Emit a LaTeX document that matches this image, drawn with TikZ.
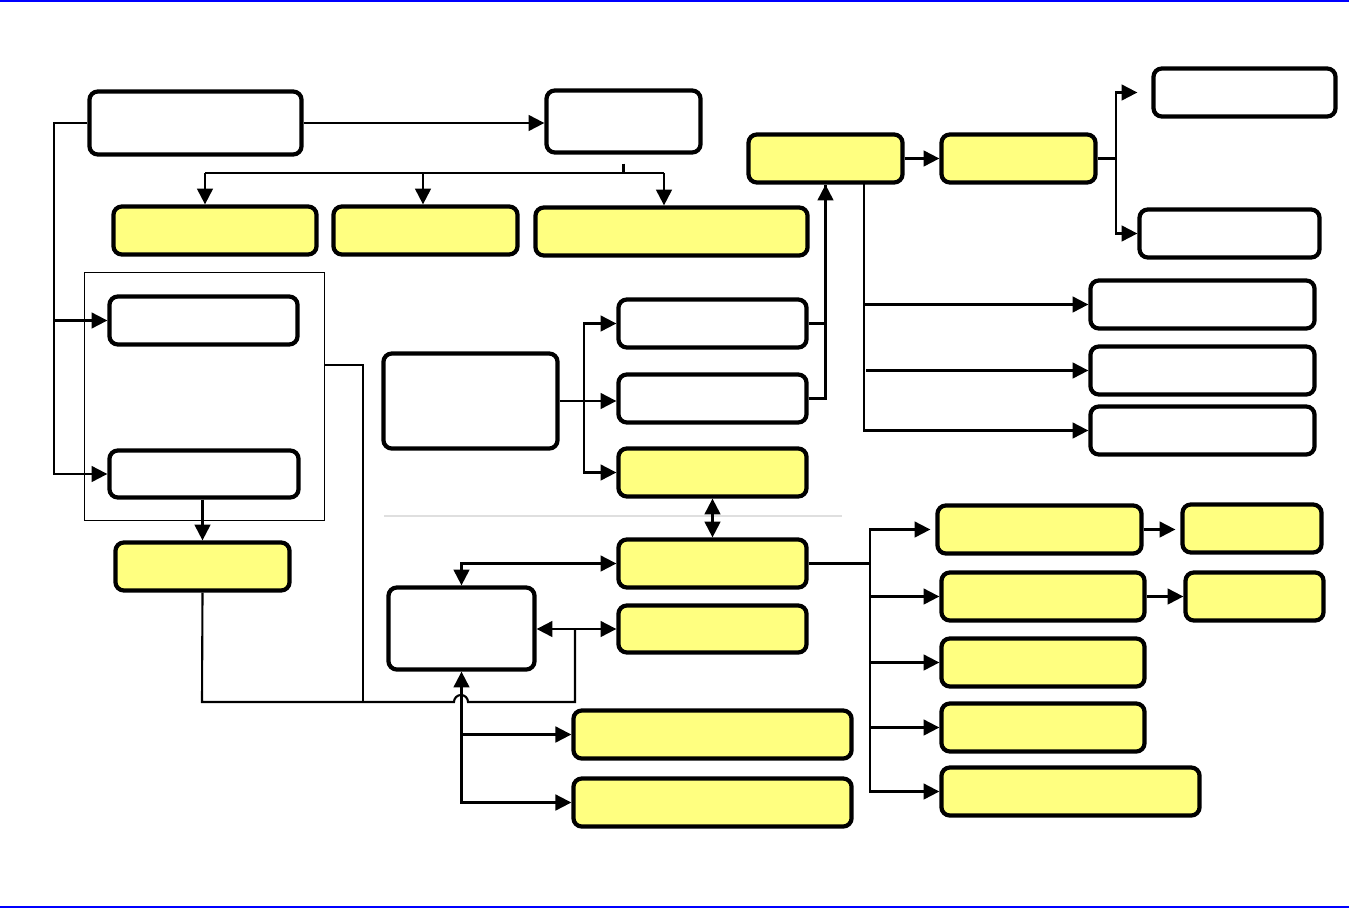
\documentclass[tikz,border=0pt]{standalone}
\usetikzlibrary{arrows.meta,positioning}
\definecolor{boxyellow}{RGB}{255,255,128}
\begin{document}
\begin{tikzpicture}[x=0.01cm,y=-0.01cm]
% Estilos
\tikzset{
  wbox/.style={rectangle, draw, line width=1.2pt, rounded corners=2.4pt, fill=white, inner sep=0pt, minimum height=0.48cm},
  ybox/.style={wbox, fill=boxyellow},
  conn/.style={line width=0.6pt},
  arr/.style={conn, -{Triangle[length=4.5pt,width=4.5pt]}},
  both/.style={conn, {Triangle[length=4.5pt,width=4.5pt]}-{Triangle[length=4.5pt,width=4.5pt]}}
}
\useasboundingbox (0,0) rectangle (1349,909);

% Linhas de margem
\draw[blue, line width=0.6pt] (0,1) -- (1349,1);
\draw[blue, line width=0.6pt] (0,907) -- (1349,907);
\draw[gray!25, line width=0.4pt] (384,516) -- (842,516);

% Grupo da esquerda
\node[draw, line width=0.3pt, inner sep=0pt, minimum width=2.39cm, minimum height=2.47cm] (grp) at (204.5,396.5) {};

% Topo
\node[wbox, minimum width=2.12cm, minimum height=0.63cm] (src) at (195.5,123) {};
\node[wbox, minimum width=1.54cm, minimum height=0.62cm] (dist) at (623.5,121.5) {};
\node[ybox, minimum width=2.03cm] (out1) at (215,230.5) {};
\node[ybox, minimum width=1.84cm] (out2) at (425.5,230.5) {};
\node[ybox, minimum width=2.72cm] (out3) at (671.5,231.5) {};

% Esquerda
\node[wbox, minimum width=1.88cm] (in1) at (203.5,320.5) {};
\node[wbox, minimum width=1.89cm, minimum height=0.47cm] (in2) at (204,474) {};
\node[ybox, minimum width=1.74cm] (res1) at (202.5,566.5) {};

% Centro
\node[wbox, minimum width=1.74cm, minimum height=0.95cm] (ctrl) at (470.5,401) {};
\node[wbox, minimum width=1.88cm] (opt1) at (712.5,323.5) {};
\node[wbox, minimum width=1.88cm] (opt2) at (712.5,398.5) {};
\node[ybox, minimum width=1.88cm] (opt3) at (712.5,472.5) {};
\node[ybox, minimum width=1.88cm] (core) at (712.5,563.5) {};
\node[ybox, minimum width=1.88cm, minimum height=0.47cm] (link) at (712.5,629) {};
\node[wbox, minimum width=1.46cm, minimum height=0.82cm] (store) at (461.5,628.5) {};
\node[ybox, minimum width=2.78cm] (log1) at (712.5,734.5) {};
\node[ybox, minimum width=2.78cm] (log2) at (712.5,802.5) {};

% Direita superior
\node[ybox, minimum width=1.54cm] (merge) at (825.5,158.5) {};
\node[ybox, minimum width=1.54cm] (next) at (1018.5,158.5) {};
\node[wbox, minimum width=1.82cm] (up1) at (1244.5,92.5) {};
\node[wbox, minimum width=1.80cm] (up2) at (1229.5,233.5) {};
\node[wbox, minimum width=2.24cm] (rep1) at (1202.5,304.5) {};
\node[wbox, minimum width=2.24cm] (rep2) at (1202.5,370.5) {};
\node[wbox, minimum width=2.24cm] (rep3) at (1202.5,430.5) {};

% Direita inferior
\node[ybox, minimum width=2.04cm] (sub1) at (1039.5,529.5) {};
\node[ybox, minimum width=1.39cm] (end1) at (1252,528.5) {};
\node[ybox, minimum width=2.03cm] (sub2) at (1043,596.5) {};
\node[ybox, minimum width=1.38cm] (end2) at (1254.5,596.5) {};
\node[ybox, minimum width=2.03cm] (sub3) at (1043,662.5) {};
\node[ybox, minimum width=2.03cm] (sub4) at (1043,727.5) {};
\node[ybox, minimum width=2.58cm] (sub5) at (1070.5,791.5) {};

% Pontos de ligacao
\coordinate (busL) at (54,123);
\coordinate (rowL) at (205,173);
\coordinate (rowM) at (423,173);
\coordinate (rowR) at (664,173);
\coordinate (loopL) at (202,702);
\coordinate (hop) at (461,702);
\coordinate (loopR) at (575,702);
\coordinate (grpOut) at (324,365);
\coordinate (grpDown) at (363,702);
\coordinate (cSplit) at (584,401);
\coordinate (tap) at (864,183);
\coordinate (fork) at (1116,158.5);
\coordinate (sp) at (870,563.5);

% Setas do topo
\draw[arr] (src.east) -- (src.east -| dist.west);
\draw[conn] ([yshift=-0.09cm]dist.south) -- (dist.south |- rowL);
\draw[conn] (rowL) -- (rowR);
\draw[arr] (rowL) -- (rowL |- out1.north);
\draw[arr] (rowM) -- (rowM |- out2.north);
\draw[arr] (rowR) -- (rowR |- out3.north);

% Setas da esquerda
\draw[arr] (src.west) -- (busL) |- (in1.west);
\draw[arr] (busL) |- (in2.west);
\draw[arr] (res1.north |- in2.south) -- (res1.north);
\draw[conn] (res1.south) -- (loopL) -- ([xshift=-0.07cm]hop) arc[start angle=180, end angle=0, radius=0.07cm] -- (loopR) -- (loopR |- link.west);
\draw[conn] (grpOut) -| (grpDown);

% Setas do centro
\draw[both] (store.east |- link.west) -- (link.west);
\draw[both] (store.north) |- (core.west);
\draw[both] (store.south) |- (log2.west);
\draw[arr] (store.south |- log1.west) -- (log1.west);
\draw[both] (opt3.south) -- (core.north);
\draw[arr] (ctrl.east) -- (ctrl.east -| opt2.west);
\draw[arr] (cSplit) |- (opt1.west);
\draw[arr] (cSplit) |- (opt3.west);
\draw[arr] (opt2.east) -| (merge.south);
\draw[conn] (opt1.east) -| (merge.south);

% Setas da direita
\draw[arr] (merge.east) -- (next.west);
\draw[arr] (tap) |- (rep1.west);
\draw[arr] ([xshift=0.02cm]tap |- rep2.west) -- (rep2.west);
\draw[arr] (tap) |- (rep3.west);
\draw[conn] (next.east) -- (fork);
\draw[arr] (fork) |- ([xshift=-0.14cm]up1.west);
\draw[arr] (fork) |- (up2.west);
\draw[conn] (core.east) -- (sp);
\draw[arr] (sp) |- ([xshift=-0.05cm]sub1.west);
\draw[arr] (sp) |- (sub2.west);
\draw[arr] (sp) |- (sub3.west);
\draw[arr] (sp) |- (sub4.west);
\draw[arr] (sp) |- (sub5.west);
\draw[arr] (sub1.east) -- ([xshift=-0.05cm]end1.west |- sub1.east);
\draw[arr] (sub2.east) -- (end2.west |- sub2.east);

\end{tikzpicture}
\end{document}
